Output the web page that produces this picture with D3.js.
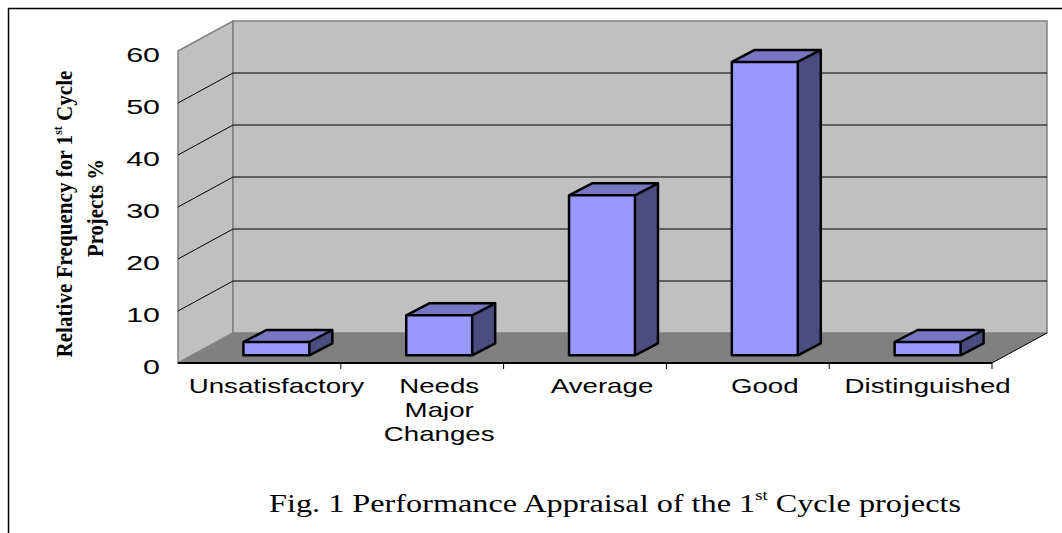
<!DOCTYPE html>
<html>
<head>
  <meta charset="utf-8">
  <title>Performance Appraisal of the 1st Cycle projects</title>
  <script src="https://d3js.org/d3.v7.min.js"></script>
  <style>
    body { margin: 0; background: #fff; }
    svg { display: block; }
    .sans { font-family: "Liberation Sans", Arial, sans-serif; fill: #000; }
    .serif { font-family: "Liberation Serif", "Times New Roman", serif; fill: #000; }
  </style>
</head>
<body>
  <svg width="1062" height="533"></svg>
  <script>
    // data (relative frequency, %)
    const categories = ["Unsatisfactory", "Needs Major Changes", "Average", "Good", "Distinguished"];
    const values = [2.56, 7.69, 30.77, 56.41, 2.56];
    const yTicks = [0, 10, 20, 30, 40, 50, 60];

    const svg = d3.select("svg");

    // front plane of the 3d box
    const plotLeft = 178, plotRight = 992, plotBottom = 363, plotTop = 51;
    const depth = { dx: 55, dy: -30 };      // front -> back wall
    const barOff = { dx: 17, dy: -7.7 };    // front plane -> bar front face
    const barDepth = { dx: 23, dy: -12 };   // bar front face -> bar back face

    const y = d3.scaleLinear().domain([0, 60]).range([plotBottom, plotTop]);
    const xCat = d3.scaleBand().domain(categories).range([plotLeft, plotRight]);
    const x = d3.scaleBand().domain(categories).range([plotLeft, plotRight])
      .paddingInner(0.595).paddingOuter(0.2975);

    // outer frame
    svg.append("path")
      .attr("d", "M8.5,533V8.5H1062")
      .attr("fill", "none").attr("stroke", "#000").attr("stroke-width", 1.5);

    const pts = a => a.map(p => p.join(",")).join(" ");

    // walls
    svg.append("polygon")
      .attr("points", pts([[plotLeft, plotBottom], [plotLeft, plotTop], [plotLeft + depth.dx, plotTop + depth.dy], [plotLeft + depth.dx, plotBottom + depth.dy]]))
      .attr("fill", "#c0c0c0").attr("stroke", "#808080").attr("stroke-width", 1.5);
    svg.append("rect")
      .attr("x", plotLeft + depth.dx).attr("y", plotTop + depth.dy)
      .attr("width", plotRight - plotLeft).attr("height", plotBottom - plotTop)
      .attr("fill", "#c0c0c0").attr("stroke", "#808080").attr("stroke-width", 1.5);

    // gridlines
    const grid = yTicks.filter(v => v > 0 && v < 60);
    svg.append("g").selectAll("line").data(grid).join("line")
      .attr("x1", plotLeft + depth.dx).attr("x2", plotRight + depth.dx)
      .attr("y1", d => y(d) + depth.dy).attr("y2", d => y(d) + depth.dy)
      .attr("stroke", "#000").attr("stroke-width", 1);
    svg.append("g").selectAll("line").data(grid).join("line")
      .attr("x1", plotLeft).attr("x2", plotLeft + depth.dx)
      .attr("y1", d => y(d)).attr("y2", d => y(d) + depth.dy)
      .attr("stroke", "#000").attr("stroke-width", 1);

    // floor
    svg.append("polygon")
      .attr("points", pts([[plotLeft, plotBottom], [plotRight, plotBottom], [plotRight + depth.dx, plotBottom + depth.dy], [plotLeft + depth.dx, plotBottom + depth.dy]]))
      .attr("fill", "#808080");
    svg.append("line")
      .attr("x1", plotRight).attr("y1", plotBottom).attr("x2", plotRight + depth.dx).attr("y2", plotBottom + depth.dy)
      .attr("stroke", "#000").attr("stroke-width", 1);
    svg.append("line")
      .attr("x1", plotLeft).attr("y1", plotBottom).attr("x2", plotRight).attr("y2", plotBottom)
      .attr("stroke", "#000").attr("stroke-width", 2);

    // category ticks
    svg.append("g").selectAll("line").data(categories).join("line")
      .attr("x1", d => xCat(d) + xCat.bandwidth()).attr("x2", d => xCat(d) + xCat.bandwidth())
      .attr("y1", plotBottom).attr("y2", plotBottom + 6)
      .attr("stroke", "#000").attr("stroke-width", 1);

    // bars
    const bars = svg.append("g").selectAll("g").data(categories).join("g");
    const geom = (c, i) => {
      const x0 = x(c) + barOff.dx, x1 = x0 + x.bandwidth();
      const yb = y(0) + barOff.dy, yt = y(values[i]) + barOff.dy;
      return { x0, x1, yb, yt };
    };
    bars.append("polygon")
      .attr("points", (c, i) => { const g = geom(c, i);
        return pts([[g.x0, g.yt], [g.x1, g.yt], [g.x1 + barDepth.dx, g.yt + barDepth.dy], [g.x0 + barDepth.dx, g.yt + barDepth.dy]]); })
      .attr("fill", "#7676c2");
    bars.append("polygon")
      .attr("points", (c, i) => { const g = geom(c, i);
        return pts([[g.x1, g.yt], [g.x1 + barDepth.dx, g.yt + barDepth.dy], [g.x1 + barDepth.dx, g.yb + barDepth.dy], [g.x1, g.yb]]); })
      .attr("fill", "#4c4c80");
    bars.append("rect")
      .attr("x", (c, i) => geom(c, i).x0).attr("y", (c, i) => geom(c, i).yt)
      .attr("width", x.bandwidth()).attr("height", (c, i) => geom(c, i).yb - geom(c, i).yt)
      .attr("fill", "#9999ff");
    bars.append("path")
      .attr("d", (c, i) => { const g = geom(c, i);
        return `M${g.x0},${g.yb}V${g.yt}H${g.x1}V${g.yb}Z` +
          `M${g.x0},${g.yt}l${barDepth.dx},${barDepth.dy}H${g.x1 + barDepth.dx}l${-barDepth.dx},${-barDepth.dy}` +
          `M${g.x1 + barDepth.dx},${g.yt + barDepth.dy}V${g.yb + barDepth.dy}L${g.x1},${g.yb}`; })
      .attr("fill", "none").attr("stroke", "#000").attr("stroke-width", 2.5).attr("stroke-linejoin", "round");

    // y tick labels
    svg.append("g").selectAll("text").data(yTicks).join("text")
      .attr("class", "sans")
      .attr("transform", d => `translate(160,${y(d) + 11}) scale(1.45,1)`)
      .attr("text-anchor", "end").attr("font-size", 21)
      .text(d => d);

    // category labels (one word per line)
    const lab = svg.append("g").selectAll("text").data(categories).join("text")
      .attr("class", "sans")
      .attr("transform", d => `translate(${x(d) + barOff.dx + x.bandwidth() / 2},393) scale(1.385,1)`)
      .attr("text-anchor", "middle").attr("font-size", 20);
    lab.each(function(d) {
      d3.select(this).selectAll("tspan").data(d.split(" ")).join("tspan")
        .attr("x", 0).attr("dy", (w, j) => j ? 24 : 0).text(w => w);
    });

    // y axis title
    const t1 = svg.append("text").attr("class", "serif")
      .attr("transform", "translate(71.5,214) rotate(-90)")
      .attr("text-anchor", "middle").attr("font-size", 23).attr("font-weight", "bold")
      .attr("textLength", 287).attr("lengthAdjust", "spacingAndGlyphs");
    t1.append("tspan").text("Relative Frequency for 1");
    t1.append("tspan").attr("font-size", 13).attr("dy", -10).text("st");
    t1.append("tspan").attr("dy", 10).text(" Cycle");
    svg.append("text").attr("class", "serif")
      .attr("transform", "translate(102.5,208) rotate(-90)")
      .attr("text-anchor", "middle").attr("font-size", 23).attr("font-weight", "bold")
      .attr("textLength", 98).attr("lengthAdjust", "spacingAndGlyphs")
      .text("Projects %");

    // figure caption
    const cap = svg.append("text").attr("class", "serif")
      .attr("x", 269).attr("y", 511.5).attr("font-size", 26)
      .attr("textLength", 692).attr("lengthAdjust", "spacingAndGlyphs");
    cap.append("tspan").text("Fig. 1 Performance Appraisal of the 1");
    cap.append("tspan").attr("font-size", 15).attr("dy", -12).text("st");
    cap.append("tspan").attr("dy", 12).text(" Cycle projects");
  </script>
</body>
</html>
